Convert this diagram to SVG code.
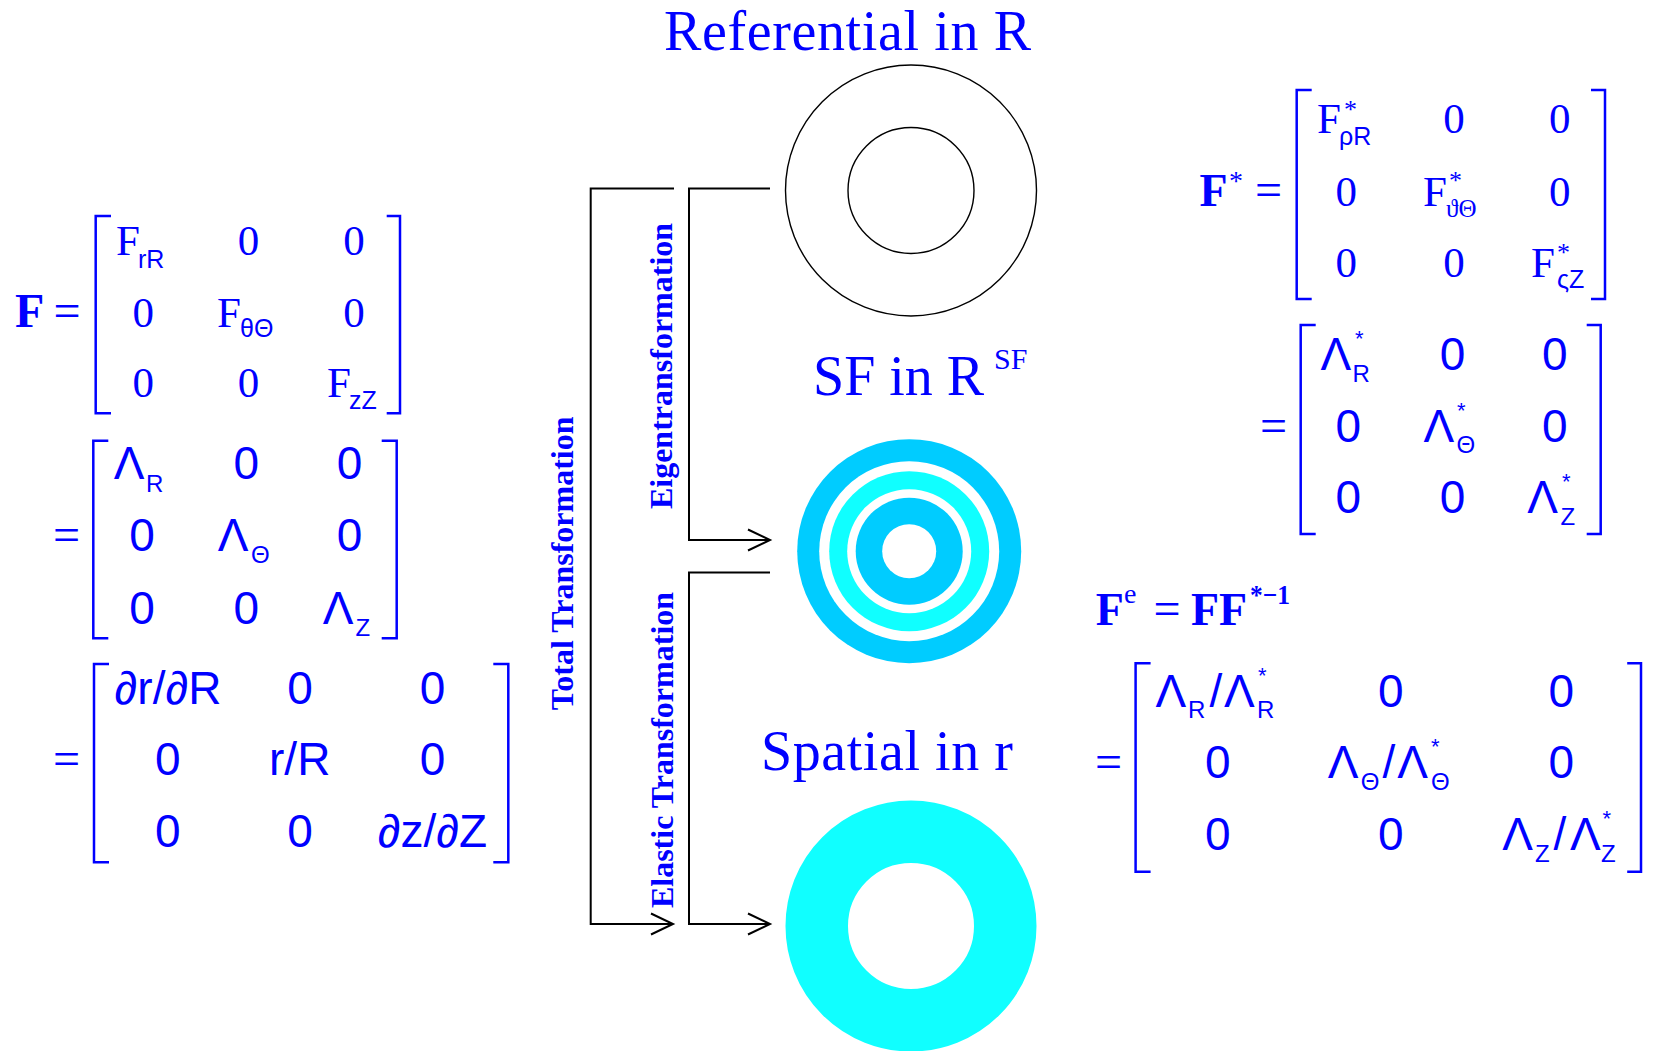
<svg xmlns="http://www.w3.org/2000/svg" width="1654" height="1051" viewBox="0 0 1654 1051">
<style>
.s{font-family:"Liberation Serif","Times New Roman",serif;fill:#0000FF}
.a{font-family:"Liberation Sans",Arial,sans-serif;fill:#0000FF}
.b{font-weight:bold}
.m{text-anchor:middle}
.br{fill:none;stroke:#0000FF;stroke-width:2.5}
.c{fill:none;stroke:#000;stroke-width:2}
.z1{font-size:43px}
.z2{font-size:46px}
.sb{font-size:25px}
.sb2{font-size:24px}
.st{font-size:26px}
.st2{font-size:22px}
.eq{font-size:48px}
</style>
<defs>
<marker id="arr" markerUnits="userSpaceOnUse" markerWidth="26" markerHeight="26" viewBox="0 0 26 26" refX="23" refY="11" orient="auto" overflow="visible">
<path d="M1,0.5 L23,11 L1,21.5" fill="none" stroke="#000" stroke-width="2"/>
</marker>
</defs>
<rect width="1654" height="1051" fill="#fff"/>

<g id="title-referential"><text class="s" font-size="56" x="664" y="49.5" textLength="367" lengthAdjust="spacing">Referential in R</text></g>
<g id="title-sf"><text class="s" font-size="56" x="813" y="395">SF in R</text><text class="s" font-size="30" x="994" y="369.3">SF</text></g>
<g id="title-spatial"><text class="s" font-size="56" x="761" y="770" textLength="252" lengthAdjust="spacing">Spatial in r</text></g>

<g id="node-referential">
<circle cx="911" cy="190.5" r="125.5" fill="none" stroke="#000" stroke-width="1.4"/>
<circle cx="911" cy="190.5" r="63" fill="none" stroke="#000" stroke-width="1.4"/>
</g>
<g id="node-sf">
<circle cx="909.2" cy="551.2" r="112" fill="#00CCFF"/>
<circle cx="909.2" cy="551.2" r="90" fill="#fff"/>
<circle cx="909.2" cy="551.2" r="80" fill="#10FFFF"/>
<circle cx="909.2" cy="551.2" r="62" fill="#fff"/>
<circle cx="909.2" cy="551.2" r="53.5" fill="#00CCFF"/>
<circle cx="909.2" cy="551.2" r="27" fill="#fff"/>
</g>
<g id="node-spatial">
<circle cx="911" cy="926" r="94.25" fill="none" stroke="#10FFFF" stroke-width="62.5"/>
</g>

<g id="connectors">
<path class="c" d="M674,188.5H590.7V924H673" marker-end="url(#arr)"/>
<path class="c" d="M770,188.5H689V540H770" marker-end="url(#arr)"/>
<path class="c" d="M770,572.5H689V924H770" marker-end="url(#arr)"/>
<text class="s b" font-size="32" text-anchor="middle" transform="translate(573,563.3) rotate(-90)">Total Transformation</text>
<text class="s b" font-size="32" text-anchor="middle" transform="translate(672,366) rotate(-90)">Eigentransformation</text>
<text class="s b" font-size="32" text-anchor="middle" transform="translate(673,750) rotate(-90)">Elastic Transformation</text>
</g>

<g id="matrix-F">
<text class="s b" font-size="48" x="15" y="326.7">F</text>
<text class="s eq" x="53.5" y="326.7">=</text>
<path class="br" d="M111,216H95.7V413.3H111M386.7,216H400V413.3H386.7"/>
<text class="s z1" x="116" y="255">F</text><text class="a sb" x="138" y="267.7">rR</text>
<text class="s z1 m" x="248.5" y="255">0</text>
<text class="s z1 m" x="354" y="255">0</text>
<text class="s z1 m" x="143.3" y="326.7">0</text>
<text class="s z1" x="217" y="326.7">F</text><text class="a sb" x="240" y="337.3">θΘ</text>
<text class="s z1 m" x="354" y="326.7">0</text>
<text class="s z1 m" x="143.3" y="397.3">0</text>
<text class="s z1 m" x="248.5" y="397.3">0</text>
<text class="s z1" x="327" y="397.3">F</text><text class="a sb" x="349" y="409.3">zZ</text>
</g>

<g id="matrix-Lambda">
<text class="s eq" x="53" y="550.7">=</text>
<path class="br" d="M108.3,440.7H93.3V638.3H108.3M381.7,440.7H396.7V638.3H381.7"/>
<text class="a z2" x="113.8" y="479.3">Λ</text><text class="a sb2" x="146" y="491.7">R</text>
<text class="a z2 m" x="246.3" y="479.3">0</text>
<text class="a z2 m" x="349.5" y="479.3">0</text>
<text class="a z2 m" x="142" y="550.7">0</text>
<text class="a z2" x="217.8" y="550.7">Λ</text><text class="a sb2" x="251" y="563.3">Θ</text>
<text class="a z2 m" x="349.5" y="550.7">0</text>
<text class="a z2 m" x="142" y="624">0</text>
<text class="a z2 m" x="246.3" y="624">0</text>
<text class="a z2" x="322.8" y="624">Λ</text><text class="a sb2" x="355.5" y="635.5">Z</text>
</g>

<g id="matrix-partial">
<text class="s eq" x="53" y="775">=</text>
<path class="br" d="M109,664H94V862.3H109M493.3,664H508.3V862.3H493.3"/>
<text class="a z2 m" x="168" y="704">∂r/∂R</text>
<text class="a z2 m" x="300" y="704">0</text>
<text class="a z2 m" x="432.5" y="704">0</text>
<text class="a z2 m" x="167.7" y="775">0</text>
<text class="a z2 m" x="299.7" y="775">r/R</text>
<text class="a z2 m" x="432.5" y="775">0</text>
<text class="a z2 m" x="167.7" y="846.7">0</text>
<text class="a z2 m" x="300" y="846.7">0</text>
<text class="a z2 m" x="432.5" y="846.7">∂z/∂Z</text>
</g>

<g id="matrix-Fstar">
<text class="s b" font-size="46" x="1199.5" y="206">F</text>
<text class="s" font-size="28" x="1229" y="190">*</text>
<text class="s eq" x="1255" y="206">=</text>
<path class="br" d="M1311.7,90H1296.7V299H1311.7M1591,90H1605V299H1591"/>
<text class="s z1" x="1317" y="133.3">F</text><text class="s st" x="1344" y="118.3">*</text><text class="a sb" x="1339" y="145">ρR</text>
<text class="s z1 m" x="1454" y="133.3">0</text>
<text class="s z1 m" x="1559.7" y="133.3">0</text>
<text class="s z1 m" x="1346.2" y="206">0</text>
<text class="s z1" x="1423" y="206">F</text><text class="s st" x="1449" y="189.3">*</text><text class="s sb" x="1446" y="217.3">ϑΘ</text>
<text class="s z1 m" x="1559.7" y="206">0</text>
<text class="s z1 m" x="1346.2" y="277.3">0</text>
<text class="s z1 m" x="1454" y="277.3">0</text>
<text class="s z1" x="1531" y="277.3">F</text><text class="s st" x="1557" y="260.9">*</text><text class="a sb" x="1557" y="288.3">ςZ</text>
</g>

<g id="matrix-Lambdastar">
<text class="s eq" x="1260" y="441.7">=</text>
<path class="br" d="M1315.7,325H1300.7V534H1315.7M1586.7,325H1600.7V534H1586.7"/>
<text class="a z2" x="1320.5" y="370">Λ</text><text class="a st2" x="1355" y="345.8">*</text><text class="a sb2" x="1352.5" y="381.7">R</text>
<text class="a z2 m" x="1452.5" y="370">0</text>
<text class="a z2 m" x="1554.7" y="370">0</text>
<text class="a z2 m" x="1348.3" y="441.7">0</text>
<text class="a z2" x="1423.5" y="441.7">Λ</text><text class="a st2" x="1457" y="417.5">*</text><text class="a sb2" x="1456.5" y="452.7">Θ</text>
<text class="a z2 m" x="1554.7" y="441.7">0</text>
<text class="a z2 m" x="1348.3" y="513.3">0</text>
<text class="a z2 m" x="1452.5" y="513.3">0</text>
<text class="a z2" x="1527.2" y="513.3">Λ</text><text class="a st2" x="1562" y="489.1">*</text><text class="a sb2" x="1560.5" y="525">Z</text>
</g>

<g id="matrix-Fe">
<text class="s b" font-size="46" x="1095.8" y="625">F</text>
<text class="s" font-size="28" x="1124" y="603.3">e</text>
<text class="s eq" x="1153.5" y="625">=</text>
<text class="s b" font-size="46" x="1191" y="625">FF</text>
<text class="s b" font-size="27" x="1250" y="604" textLength="40" lengthAdjust="spacingAndGlyphs">*−1</text>
<text class="s eq" x="1095" y="778.3">=</text>
<path class="br" d="M1150.6,663.3H1135.6V871.7H1150.6M1627.2,663.3H1641V871.7H1627.2"/>
<text class="a z2" x="1155.5" y="706.7">Λ</text><text class="a sb2" x="1188" y="718.3">R</text><text class="a z2" x="1209.5" y="706.7">/</text><text class="a z2" x="1224" y="706.7">Λ</text><text class="a st2" x="1258" y="682.5">*</text><text class="a sb2" x="1257" y="718.3">R</text>
<text class="a z2 m" x="1390.7" y="706.7">0</text>
<text class="a z2 m" x="1561.4" y="706.7">0</text>
<text class="a z2 m" x="1217.7" y="778.3">0</text>
<text class="a z2" x="1327.7" y="778.3">Λ</text><text class="a sb2" x="1360.7" y="790">Θ</text><text class="a z2" x="1382.5" y="778.3">/</text><text class="a z2" x="1397.2" y="778.3">Λ</text><text class="a st2" x="1431" y="754.1">*</text><text class="a sb2" x="1430.9" y="790">Θ</text>
<text class="a z2 m" x="1561.4" y="778.3">0</text>
<text class="a z2 m" x="1217.7" y="850">0</text>
<text class="a z2 m" x="1390.7" y="850">0</text>
<text class="a z2" x="1502.3" y="850">Λ</text><text class="a sb2" x="1535" y="861.6">Z</text><text class="a z2" x="1553.5" y="850">/</text><text class="a z2" x="1570" y="850">Λ</text><text class="a st2" x="1602.5" y="825.8">*</text><text class="a sb2" x="1601" y="861.6">Z</text>
</g>
</svg>
